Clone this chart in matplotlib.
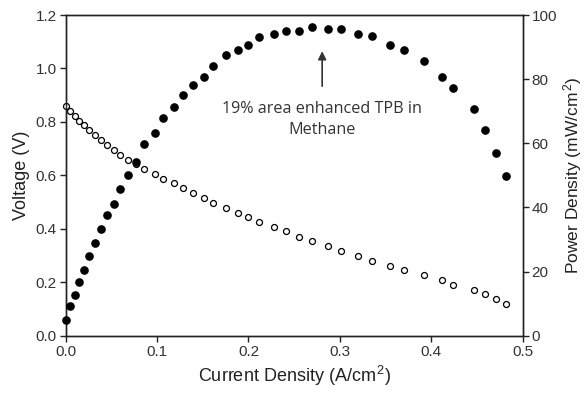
import matplotlib
matplotlib.use("Agg")
import matplotlib.pyplot as plt

plt.rcParams['font.family'] = ['Liberation Sans', 'DejaVu Sans']
plt.rcParams['mathtext.fontset'] = 'custom'
plt.rcParams['mathtext.rm'] = 'Liberation Sans'
plt.rcParams['mathtext.it'] = 'Liberation Sans'

current = [0.0000, 0.0047, 0.0099, 0.0149, 0.0200, 0.0258, 0.0318, 0.0387, 0.0452, 0.0526,
           0.0598, 0.0682, 0.0773, 0.0861, 0.0978, 0.1069, 0.1183, 0.1288, 0.1397, 0.1511,
           0.1616, 0.1752, 0.1887, 0.1999, 0.2120, 0.2284, 0.2412, 0.2549, 0.2694, 0.2875,
           0.3007, 0.3193, 0.3346, 0.3551, 0.3696, 0.3923, 0.4113, 0.4241, 0.4471, 0.4591,
           0.4704, 0.4821]
voltage = [0.858, 0.841, 0.823, 0.804, 0.787, 0.769, 0.750, 0.731, 0.714, 0.696,
           0.677, 0.659, 0.641, 0.624, 0.605, 0.587, 0.570, 0.553, 0.535, 0.515,
           0.497, 0.478, 0.459, 0.443, 0.425, 0.408, 0.390, 0.371, 0.354, 0.336,
           0.317, 0.298, 0.281, 0.262, 0.246, 0.227, 0.208, 0.190, 0.172, 0.155,
           0.137, 0.119]
power = [4.9, 9.2, 12.7, 16.7, 20.5, 24.8, 29.0, 33.2, 37.5, 41.1,
         45.7, 50.2, 54.3, 59.8, 63.3, 67.8, 71.4, 75.1, 78.3, 80.7,
         84.2, 87.5, 89.0, 90.6, 93.2, 94.1, 95.1, 95.1, 96.4, 95.5,
         95.5, 94.1, 93.5, 90.6, 89.1, 85.7, 80.8, 77.1, 70.8, 64.1,
         57.1, 49.8]
x_ticks = [0.0, 0.1, 0.2, 0.3, 0.4, 0.5]
v_ticks = [0.0, 0.2, 0.4, 0.6, 0.8, 1.0, 1.2]
p_ticks = [0, 20, 40, 60, 80, 100]
annotation = "19% area enhanced TPB in\nMethane"

fig = plt.figure(figsize=(5.85, 3.93), dpi=100)
ax = fig.add_axes([0.1123, 0.1458, 0.7812, 0.8160])
ax2 = ax.twinx()

ax.plot(current, voltage, linestyle='none', marker='o', markersize=4.3,
        markerfacecolor='white', markeredgecolor='black', markeredgewidth=0.9,
        clip_on=False, zorder=3)
ax2.plot(current, power, linestyle='none', marker='o', markersize=5.2,
         markerfacecolor='black', markeredgecolor='black', clip_on=False, zorder=3)

ax.set_xlim(0, 0.5)
ax.set_ylim(0, 1.2)
ax2.set_ylim(0, 100)
ax.set_xticks(x_ticks)
ax.set_xticklabels([f"{t:.1f}" for t in x_ticks])
ax.set_yticks(v_ticks)
ax.set_yticklabels([f"{t:.1f}" for t in v_ticks])
ax2.set_yticks(p_ticks)
ax2.set_yticklabels([str(t) for t in p_ticks])

for a in (ax, ax2):
    a.tick_params(direction='out', length=4, width=1, labelsize=11, colors='#222222',
                  labelcolor='#333333', pad=2.5)
    for s in a.spines.values():
        s.set_linewidth(1.0)
        s.set_color('#222222')

ax.set_xlabel("Current Density (A/cm$^{\\,2}$)", fontsize=13, color='#222222', labelpad=4)
ax.set_ylabel("Voltage (V)", fontsize=13, color='#222222', labelpad=4)
ax2.set_ylabel("Power Density (mW/cm$^{\\,2}$)", fontsize=12.5, color='#222222', labelpad=3)

ax.annotate("", xy=(0.2806, 1.075), xytext=(0.2806, 0.923),
            arrowprops=dict(arrowstyle='-|>', color='#333333', lw=1.2,
                            mutation_scale=12))
ax.text(0.2806, 0.81, annotation, ha='center', va='center', fontsize=11.6,
        family=['Open Sans', 'DejaVu Sans'], color='#333333', linespacing=1.4)

fig.savefig("out.png", dpi=100)
